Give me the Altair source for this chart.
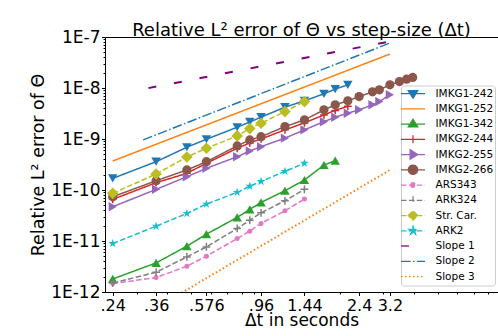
import altair as alt
import pandas as pd

FONT = "DejaVu Sans"

# ---------------- data ----------------
series = ["IMKG1-242", "IMKG1-252", "IMKG1-342", "IMKG2-244", "IMKG2-255", "IMKG2-266",
          "ARS343", "ARK324", "Str. Car.", "ARK2", "Slope 1", "Slope 2", "Slope 3"]

dt_base = [0.24, 0.36, 0.48, 0.576, 0.768, 0.864, 0.96, 1.2, 1.44]

imkg1_242_dt = [0.24, 0.36, 0.48, 0.576, 0.768, 0.864, 0.96, 1.2, 1.44, 1.728, 1.92, 2.16]
imkg1_242_err = [1.69e-10, 3.59e-10, 6.89e-10, 9.89e-10, 1.70e-9, 2.16e-9, 2.68e-9, 4.21e-9,
                 5.6e-9, 7.69e-9, 9.5e-9, 1.155e-8]

imkg1_252_dt = [0.24, 3.2]
imkg1_252_err = [3.7e-10, 4.63e-8]

imkg1_342_dt = [0.24, 0.36, 0.48, 0.576, 0.768, 0.864, 0.96, 1.2, 1.44, 1.728, 1.92]
imkg1_342_err = [1.8e-12, 3.72e-12, 7.91e-12, 1.36e-11, 2.9e-11, 4.16e-11, 5.71e-11, 9.66e-11,
                 1.57e-10, 3.09e-10, 3.76e-10]

imkg2_244_dt = [0.24, 0.36, 0.48, 0.576, 0.768, 0.864, 0.96, 1.2, 1.44, 1.728, 1.92, 2.16]
imkg2_244_err = [6.55e-11, 1.39e-10, 2.12e-10, 3.34e-10, 6.58e-10, 8.37e-10, 1.0e-9, 1.51e-9,
                 2.07e-9, 2.97e-9, 3.64e-9, 4.37e-9]

imkg2_255_dt = [0.24, 0.36, 0.48, 0.576, 0.768, 0.864, 0.96, 1.2, 1.44, 1.728, 1.92, 2.16,
                2.4, 2.72, 2.9, 3.2]
imkg2_255_err = [4.69e-11, 1.03e-10, 1.82e-10, 2.66e-10, 4.5e-10, 5.82e-10, 7.08e-10, 1.04e-9,
                 1.51e-9, 2.19e-9, 2.68e-9, 3.21e-9, 3.73e-9, 4.67e-9, 5.42e-9, 7.34e-9]

imkg2_266_dt = [0.24, 0.36, 0.48, 0.576, 0.768, 0.864, 0.96, 1.2, 1.44, 1.728, 1.92, 2.16,
                2.4, 2.72, 2.9, 3.2, 3.5, 3.74, 3.96]
imkg2_266_err = [7.36e-11, 1.52e-10, 2.47e-10, 3.59e-10, 7.31e-10, 9.6e-10, 1.11e-9, 1.75e-9,
                 2.37e-9, 3.73e-9, 4.67e-9, 5.6e-9, 6.8e-9, 8.41e-9, 9.2e-9, 1.155e-8,
                 1.34e-8, 1.49e-8, 1.61e-8]

ars343_dt = dt_base
ars343_err = [1.46e-12, 1.92e-12, 3.2e-12, 5.03e-12, 1.12e-11, 1.56e-11, 2.21e-11, 3.91e-11, 6.64e-11]

ark324_dt = dt_base
ark324_err = [1.5e-12, 2.44e-12, 4.88e-12, 7.66e-12, 1.76e-11, 2.56e-11, 3.57e-11, 6.15e-11, 1.03e-10]

strcar_dt = dt_base
strcar_err = [8.59e-11, 2.06e-10, 4.44e-10, 6.58e-10, 1.15e-9, 1.6e-9, 2.04e-9, 3.45e-9, 5.42e-9]

ark2_dt = dt_base
ark2_err = [8.93e-12, 1.95e-11, 3.47e-11, 5.3e-11, 8.99e-11, 1.19e-10, 1.47e-10, 2.32e-10, 3.34e-10]

slope1_dt = [0.335, 3.2]
slope1_err = [9.95e-9, 8.19e-8]
slope2_dt = [0.319, 3.2]
slope2_err = [9.6e-10, 7.62e-8]
slope3_dt = [0.32, 3.2]
slope3_err = [3.5e-13, 2.47e-10]

x_major = [0.24, 0.36, 0.576, 0.96, 1.44, 2.4, 3.2]
x_minor = [0.3, 0.4, 0.5, 0.6, 0.7, 0.8, 0.9, 2, 3, 4, 5, 6, 7, 8]
y_major = [1e-12, 1e-11, 1e-10, 1e-9, 1e-8, 1e-7]
y_minor = [2e-12, 3e-12, 4e-12, 5e-12, 6e-12, 7e-12, 8e-12, 9e-12,
           2e-11, 3e-11, 4e-11, 5e-11, 6e-11, 7e-11, 8e-11, 9e-11,
           2e-10, 3e-10, 4e-10, 5e-10, 6e-10, 7e-10, 8e-10, 9e-10,
           2e-9, 3e-9, 4e-9, 5e-9, 6e-9, 7e-9, 8e-9, 9e-9,
           2e-8, 3e-8, 4e-8, 5e-8, 6e-8, 7e-8, 8e-8, 9e-8]

# ---------------- styles ----------------
colors = ["#1f77b4", "#ff7f0e", "#2ca02c", "#d62728", "#9467bd", "#8c564b",
          "#e377c2", "#7f7f7f", "#bcbd22", "#17becf", "#800080", "#1f77b4", "#ff7f0e"]
DASHED = [5.5, 2.4]
dashes = [[1, 0], [1, 0], [1, 0], [1, 0], [1, 0], [1, 0],
          DASHED, DASHED, DASHED, DASHED, [8, 18], [9.6, 2.4, 1.5, 2.4], [1.5, 2.5]]
widths = [1.5] * 10 + [2, 1.5, 2]

STAR = ("M0,-1L0.2245,-0.309L0.9511,-0.309L0.3633,0.118L0.5878,0.809L0,0.382"
        "L-0.5878,0.809L-0.3633,0.118L-0.9511,-0.309L-0.2245,-0.309Z")
PLUS = "M-1,0H1M0,-1V1"
# marker: (shape, size, filled)
markers = {
    "IMKG1-242": ("triangle-down", 90, True),
    "IMKG1-342": ("triangle-up", 90, True),
    "IMKG2-244": (PLUS, 60, False),
    "IMKG2-255": ("triangle-right", 90, True),
    "IMKG2-266": ("circle", 85, True),
    "ARS343": ("circle", 25, True),
    "ARK324": (PLUS, 60, False),
    "Str. Car.": ("diamond", 135, True),
    "ARK2": (STAR, 85, True),
}


def circ(r):
    return f"M{-r},0A{r},{r} 0 1,0 {r},0A{r},{r} 0 1,0 {-r},0Z"


# every legend symbol gets the same invisible vertical extent so rows are even
E = 0.8
LINE = f"M0,{-E}L0,{-E}M0,{E}L0,{E}M-2,0H2"
legend_shapes = [
    LINE + "M-0.8,-0.48H0.8L0,0.8Z",
    LINE,
    LINE + "M-0.8,0.48H0.8L0,-0.8Z",
    LINE + "M-0.65,0H0.65M0,-0.65V0.65",
    LINE + "M-0.48,-0.8V0.8L0.8,0Z",
    LINE + circ(0.78),
    LINE + circ(0.38),
    LINE + "M-0.65,0H0.65M0,-0.65V0.65",
    LINE + "M-0.8,0L0,-0.8L0.8,0L0,0.8Z",
    LINE + "M0,-0.75L0.168,-0.232L0.713,-0.232L0.272,0.088L0.44,0.607L0,0.287L-0.44,0.607L-0.272,0.088L-0.713,-0.232L-0.168,-0.232Z",
    LINE,
    LINE,
    LINE,
]

data_lists = [
    (imkg1_242_dt, imkg1_242_err), (imkg1_252_dt, imkg1_252_err), (imkg1_342_dt, imkg1_342_err),
    (imkg2_244_dt, imkg2_244_err), (imkg2_255_dt, imkg2_255_err), (imkg2_266_dt, imkg2_266_err),
    (ars343_dt, ars343_err), (ark324_dt, ark324_err), (strcar_dt, strcar_err), (ark2_dt, ark2_err),
    (slope1_dt, slope1_err), (slope2_dt, slope2_err), (slope3_dt, slope3_err),
]
rows = []
for name, (xs, ys) in zip(series, data_lists):
    for xv, yv in zip(xs, ys):
        rows.append({"series": name, "dt": xv, "err": yv})
df = pd.DataFrame(rows)

# ---------------- axes ----------------
xmaj = "[" + ",".join(str(v) for v in x_major) + "]"
x_is_major = f"indexof({xmaj}, datum.value) >= 0"
x_label = (f"{x_is_major} ? (datum.value < 1 ? slice(toString(datum.value), 1) : "
           f"toString(datum.value)) : ''")
y_is_major = "abs(log(datum.value)/LN10 - round(log(datum.value)/LN10)) < 0.01"
y_label = f"{y_is_major} ? '1E' + round(log(datum.value)/LN10) : ''"

x_axis = alt.Axis(values=x_major + x_minor, labelExpr=x_label, title="Δt in seconds",
                  labelOverlap=False, labelFlush=False, grid=False,
                  tickSize={"condition": {"test": x_is_major, "value": 3.5}, "value": 2},
                  labelFont=FONT, labelFontSize=16, titleFont=FONT, titleFontSize=17,
                  titleFontWeight="normal", labelPadding=1.5, titlePadding=-1,
                  domainColor="black", tickColor="black", labelColor="black",
                  titleColor="black")
y_axis = alt.Axis(values=y_major + y_minor, labelExpr=y_label, title="Relative L² error of Θ",
                  labelOverlap=False, labelFlush=False, grid=False,
                  tickSize={"condition": {"test": y_is_major, "value": 3.5}, "value": 2},
                  labelFont=FONT, labelFontSize=17, titleFont=FONT, titleFontSize=17.5,
                  titleFontWeight="normal", labelPadding=1.5, titlePadding=3,
                  domainColor="black", tickColor="black", labelColor="black",
                  titleColor="black")

x_enc = alt.X("dt:Q", scale=alt.Scale(type="log", domain=[0.2233, 8.79], nice=False),
              axis=x_axis)
y_enc = alt.Y("err:Q", scale=alt.Scale(type="log", domain=[1e-12, 1e-7], nice=False),
              axis=y_axis)

base = alt.Chart(df).encode(x=x_enc, y=y_enc)

layers = []
for i, name in enumerate(series):
    sub = base.transform_filter(alt.datum.series == name)
    layers.append(sub.mark_line(color=colors[i], strokeDash=dashes[i],
                                strokeWidth=widths[i], clip=True))
    if name in markers:
        shp, size, filled = markers[name]
        if filled:
            layers.append(sub.mark_point(shape=shp, size=size, filled=True, color=colors[i],
                                         opacity=1, strokeWidth=0, clip=True))
        else:
            layers.append(sub.mark_point(shape=shp, size=size, filled=False, color=colors[i],
                                         opacity=1, strokeWidth=1.5, clip=True))

legend = alt.Legend(title=None, orient="none", legendX=296, legendY=48.5, padding=1,
                    fillColor="rgba(255,255,255,0.8)", strokeColor="#cccccc",
                    cornerRadius=3, labelFont=FONT, labelFontSize=10.5, labelColor="black",
                    symbolSize=144, symbolStrokeWidth=1.25, symbolOpacity=1,
                    symbolOffset=4, labelOffset=15.5, rowPadding=-0.75, labelLimit=200)
dom = series
legend_layer = base.transform_filter("false").mark_point(filled=True).encode(
    fill=alt.Fill("series:N", scale=alt.Scale(domain=dom, range=colors), legend=legend),
    stroke=alt.Stroke("series:N", scale=alt.Scale(domain=dom, range=colors), legend=legend),
    shape=alt.Shape("series:N", scale=alt.Scale(domain=dom, range=legend_shapes), legend=legend),
    strokeDash=alt.StrokeDash("series:N", scale=alt.Scale(domain=dom, range=dashes), legend=legend),
)
layers.append(legend_layer)

chart = alt.layer(*layers).properties(
    width=393, height=255,
    title=alt.Title("Relative L² error of Θ vs step-size (Δt)", font=FONT, fontSize=18,
                    fontWeight="normal", color="black", offset=-11.5, frame="group"),
    autosize=alt.AutoSizeParams(type="none"),
    padding={"left": 105, "top": 37, "right": 0, "bottom": 44},
    background="white",
).configure_view(stroke="black", strokeWidth=1)

chart.save("out.html", embed_options={"renderer": "svg", "actions": False})
